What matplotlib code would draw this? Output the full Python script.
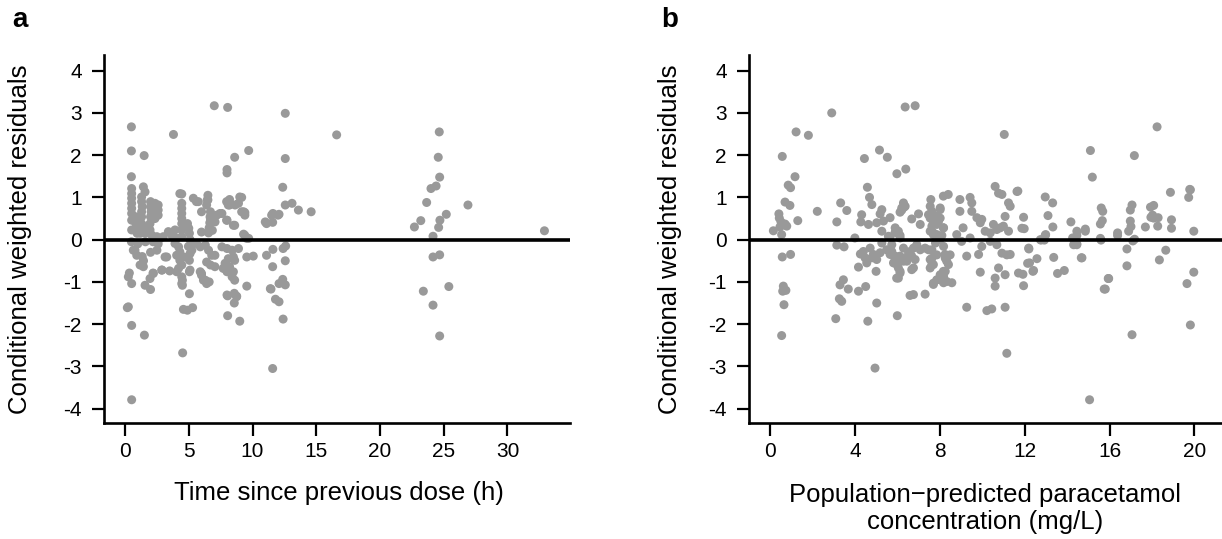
#!/usr/bin/env python3
"""CWRES vs time since dose and vs population-predicted concentration."""

import matplotlib
matplotlib.use("Agg")
import matplotlib.pyplot as plt
import numpy as np

plt.rcParams["font.family"] = ["Liberation Sans", "DejaVu Sans"]
plt.rcParams["axes.unicode_minus"] = False

# panel a: (time since previous dose [h], CWRES)
points_a = [
    (0.5, 2.67), (0.5, 2.10), (1.5, 1.99), (0.5, 1.49), (3.8, 2.49), (7.0, 3.17), (8.05, 3.13),
    (9.7, 2.11), (8.6, 1.95), (8.0, 1.66), (8.0, 1.58), (12.57, 2.99), (12.57, 1.92), (12.37, 1.24),
    (16.6, 2.48), (12.57, 0.82), (13.1, 0.86), (13.6, 0.70), (14.6, 0.66), (11.58, 0.60), (12.08, 0.60),
    (11.58, 0.41), (11.1, 0.38),
    (24.65, 2.55), (24.57, 1.95), (24.68, 1.48), (24.0, 1.21), (24.4, 1.27), (23.66, 0.88), (26.9, 0.82),
    (25.2, 0.60), (23.2, 0.45), (22.7, 0.30), (24.7, 0.46), (24.6, 0.29), (24.16, 0.08), (32.9, 0.21),
    (24.16, -0.41), (24.68, -0.36), (23.4, -1.22), (25.4, -1.11), (24.16, -1.55), (24.68, -2.28),
    (11.6, -0.23), (12.4, -0.21), (12.6, -0.15), (12.57, -0.50), (11.58, -0.64), (12.37, -0.94),
    (12.08, -1.04), (12.57, -1.07), (11.45, -1.17), (11.8, -1.41), (12.08, -1.47), (12.4, -1.88),
    (11.58, -3.05),
    (0.18, -1.61), (0.52, -2.03), (1.52, -2.26), (4.52, -2.68), (0.52, -3.79),
    (4.58, -1.65), (4.89, -1.67), (5.3, -1.61), (5.05, -1.28), (8.05, -1.80), (9.0, -1.93),
    (8.05, -1.33), (8.57, -1.27), (8.76, -1.34), (8.57, -1.50), (9.55, -1.10), (11.4, -1.16),
    (1.57, -1.08), (2.0, -1.18), (0.34, -0.79), (0.26, -0.88), (0.52, -1.04),
    (2.2, -0.79), (2.9, -0.72), (3.5, -0.74), (4.05, -0.76), (4.5, -0.96), (4.5, -1.08),
    (6.0, -0.80), (6.15, -0.96), (6.6, -1.0), (6.4, -1.04), (3.27, -0.41), (5.05, -0.76),
    (7.97, -0.72), (8.5, -0.76), (9.55, -0.41), (10.06, -0.39), (11.1, -0.37),
    (6.5, 1.05), (6.5, 0.94), (6.4, 0.82), (5.6, 0.90), (8.2, 0.95), (8.2, 0.82), (8.9, 0.86),
    (9.15, 1.0), (6.0, 0.66), (6.7, 0.66), (7.6, 0.62), (8.0, 0.46), (8.6, 0.34), (9.3, 0.66),
    (9.4, 0.64), (11.0, 0.42), (11.5, 0.58),
    (6.7, 0.50), (6.65, 0.40), (6.6, 0.28), (6.55, 0.16), (6.8, 0.45), (6.85, 0.22), (6.0, 0.18),
    (9.4, 0.10), (9.7, 0.03),
    (5.6, -0.09), (5.9, -0.17), (6.3, -0.13), (6.55, -0.25), (6.8, -0.37), (7.05, -0.37),
    (6.4, -0.53), (6.7, -0.60), (7.05, -0.64), (7.6, -0.17), (8.0, -0.21), (8.4, -0.25), (8.9, -0.21),
    (8.1, -0.45), (8.5, -0.41), (7.85, -0.56), (8.2, -0.64), (8.6, -0.49),
    (5.9, -0.76), (6.0, -0.84), (6.3, -0.96), (7.7, -0.68), (8.0, -0.76), (8.4, -0.88), (8.6, -0.96),
    (8.0, -1.31), (8.75, -1.35),
    (5.36, 0.98), (5.75, 0.90), (6.45, 0.94), (6.67, 0.54), (7.2, 0.58), (7.45, 0.62), (7.97, 0.90),
    (8.1, 0.82), (8.63, 0.82), (9.0, 1.01), (9.15, 0.66), (9.4, 0.58), (7.97, 0.46), (8.5, 0.34),
    (7.06, 0.42), (9.3, 0.13), (9.55, 0.03), (11.6, 0.62), (12.0, 0.58), (4.45, 1.08), (4.3, 1.09),
    (0.52, 1.21), (0.52, 1.09), (0.52, 0.98), (0.52, 0.86), (0.52, 0.74), (0.52, 0.62), (0.52, 0.46),
    (0.52, 0.23), (0.86, 0.54), (0.86, 0.38), (0.95, 0.27), (0.95, 0.15), (1.2, 0.15), (1.4, 0.2),
    (1.44, 1.25), (1.57, 1.13), (1.3, 1.01), (1.3, 0.90), (1.35, 0.78), (1.3, 0.66), (1.3, 0.54),
    (1.3, 0.38), (1.3, 0.27),
    (1.7, 0.30), (1.96, 0.23), (1.57, 0.15), (2.09, 0.11), (2.5, 0.07), (2.75, 0.03), (3.0, 0.07),
    (2.35, 0.86), (2.35, 0.74), (2.35, 0.62), (2.35, 0.50), (2.6, 0.82), (2.6, 0.70), (2.6, 0.58),
    (2.0, 0.90), (2.0, 0.78), (2.05, 0.66), (2.0, 0.54), (1.96, 0.38),
    (4.45, 0.86), (4.45, 0.74), (4.45, 0.62), (4.45, 0.50), (4.45, 0.38), (4.45, 0.23), (4.45, 0.07),
    (3.4, 0.19), (3.66, 0.11), (3.92, 0.23), (4.05, 0.03),
    (4.9, 0.38), (5.0, 0.27), (5.05, 0.15), (5.1, 0.0), (4.97, -0.16), (5.1, -0.33), (5.05, -0.49),
    (0.78, -0.25), (1.35, -0.40), (1.45, -0.50), (0.65, -0.25), (0.92, -0.37), (1.18, -0.60),
    (1.44, -0.64), (0.26, -1.59),
    (2.88, -0.72), (2.22, -0.80), (1.96, -0.92), (4.45, -0.88), (4.45, -1.04),
    (3.92, -0.09), (4.2, -0.17), (4.3, -0.29), (4.05, -0.37), (4.6, -0.41), (4.3, -0.49),
    (4.45, -0.60), (4.2, -0.68), (5.1, -0.72), (5.24, -0.25), (5.36, -0.09), (3.14, -0.41),
    (1.0, -0.10), (1.6, -0.05), (2.2, -0.05), (2.6, -0.10), (0.5, -0.05), (2.5, -0.25), (2.0, -0.30),
]

# panel b: (population-predicted concentration [mg/L], CWRES)
points_b = [
    (2.91, 3.0), (6.37, 3.14), (6.84, 3.17), (1.23, 2.55), (1.81, 2.47), (0.58, 1.97), (1.18, 1.49),
    (0.86, 1.29), (0.97, 1.23), (0.71, 0.89), (0.94, 0.81), (1.31, 0.45), (0.42, 0.61), (0.52, 0.42),
    (0.71, 0.37), (0.44, 0.51), (0.16, 0.21), (0.55, 0.12), (0.79, 0.32), (0.47, 0.30),
    (2.23, 0.67), (3.33, 0.87), (3.62, 0.69), (3.15, 0.42), (4.0, 0.04),
    (4.45, 1.92), (5.16, 2.12), (5.53, 1.95), (5.98, 1.56), (6.4, 1.67), (4.59, 1.24), (4.69, 1.0),
    (4.8, 0.83), (4.32, 0.59), (4.28, 0.42), (4.64, 0.36), (5.03, 0.40), (5.27, 0.71), (5.19, 0.61),
    (5.35, 0.44), (5.66, 0.52), (5.27, 0.20), (6.21, 0.70), (6.32, 0.77), (6.13, 0.65), (6.68, 0.49),
    (7.0, 0.61), (7.08, 0.36), (5.9, 0.18), (6.13, 0.10), (5.66, 0.06),
    (7.58, 0.95), (7.55, 0.79), (7.63, 0.67), (7.55, 0.51), (7.7, 0.40), (7.86, 0.36), (8.02, 0.75),
    (8.17, 1.03), (8.02, 0.51), (7.6, 0.20), (7.7, 0.12), (8.17, 0.28),
    (0.58, -0.41), (0.97, -0.35), (0.63, -1.1), (0.75, -1.2), (0.6, -1.22), (0.66, -1.54),
    (0.55, -2.27), (3.15, -0.13), (3.49, -0.17), (3.46, -0.95), (3.3, -1.07), (3.69, -1.17),
    (3.27, -1.40), (3.38, -1.46), (3.1, -1.87), (4.17, -1.22), (4.51, -1.11), (4.61, -1.93),
    (5.03, -1.50), (4.95, -3.04), (4.17, -0.65), (5.0, -0.75), (4.26, -0.34), (4.48, -0.43),
    (4.56, -0.55), (4.40, -0.28), (4.72, -0.2), (4.87, -0.35), (5.19, -0.31), (5.5, -0.24),
    (5.03, -0.47), (5.27, -0.08), (5.58, 0.08), (5.74, -0.12), (5.98, 0.16), (6.13, 0.04),
    (5.74, -0.35), (5.9, -0.47), (5.98, -0.59), (6.13, -0.39), (6.29, -0.51), (6.45, -0.43),
    (6.6, -0.28), (6.13, -0.75), (6.05, -0.91), (6.76, -0.67), (6.92, -0.16), (7.08, -0.24),
    (6.84, -0.47), (6.0, -1.8), (6.6, -1.32), (6.76, -1.30), (7.31, -1.29), (7.55, -0.47),
    (7.7, -0.59), (7.63, -0.24), (8.17, -0.75), (8.02, -0.95), (7.7, -1.03), (8.33, -0.99),
    (8.33, -0.51), (8.25, -0.35), (7.7, 0.16), (8.0, 0.0), (7.8, -0.08), (4.8, -0.43), (5.66, -0.35),
    (6.29, 0.87), (6.37, 0.79), (6.21, 0.75), (5.9, 0.28), (6.05, 0.2),
    (7.47, 0.59), (7.86, 0.55), (8.02, 0.71), (7.94, 0.43), (7.63, 0.32), (7.55, 0.2), (7.86, 0.12),
    (8.18, 0.28), (8.1, 0.10),
    (8.4, 1.07), (8.95, 0.95), (8.95, 0.67), (9.1, 0.28), (8.8, 0.12), (9.03, -0.04),
    (9.43, 1.0), (9.51, 0.87), (9.51, 0.67), (9.75, 0.52), (9.98, 0.48), (9.91, 0.40), (10.14, 0.2),
    (10.38, 0.16), (10.53, 0.36), (10.69, 0.24), (10.85, 0.28),
    (10.61, 1.26), (10.77, 1.1), (10.93, 1.07), (11.24, 0.87), (11.32, 0.79), (11.08, 0.55),
    (11.0, 0.32), (11.24, 0.2), (11.64, 1.14), (9.43, 0.04),
    (5.74, -0.28), (5.9, -0.39), (5.97, -0.51), (6.05, -0.67), (6.13, -0.79), (5.97, -0.91),
    (5.82, -0.55), (6.29, -0.2), (6.53, -0.32), (6.68, -0.39), (6.76, -0.2), (6.68, -0.71),
    (6.92, -0.12), (6.45, -0.51),
    (7.31, -0.2), (7.47, -0.24), (7.63, -0.44), (7.63, -0.59), (7.55, -0.67), (7.86, -0.36),
    (8.18, -0.16), (8.26, -0.44), (8.41, -0.59), (8.49, -0.36), (8.02, -0.83), (7.86, -0.95),
    (8.18, -0.87), (8.26, -0.75), (8.57, -1.02), (7.7, -1.06), (8.18, -1.02),
    (9.27, -0.39), (9.91, -0.77), (9.83, -0.35), (9.98, -0.16), (10.38, -0.04), (10.69, -0.12),
    (10.93, -0.32), (11.32, -0.35), (10.77, -0.67), (11.08, -0.83), (10.61, -0.91), (10.61, -1.1),
    (11.71, -0.79), (11.16, -0.36),
    (9.27, -1.6), (10.22, -1.68), (10.45, -1.64), (11.08, -1.6),
    (11.04, 2.49), (15.1, 2.11), (15.19, 1.48), (18.24, 2.67), (17.17, 1.99), (18.87, 1.12),
    (19.78, 1.19), (19.73, 1.0), (19.97, 0.2), (19.97, -0.77), (19.65, -1.04), (19.81, -2.02),
    (17.06, -2.25), (15.06, -3.79), (11.16, -2.69),
    (15.8, -1.17), (15.96, -0.92), (16.82, -0.62), (16.82, -0.22), (18.35, -0.48), (18.65, -0.25),
    (14.7, -0.43), (14.46, -0.1),
    (15.57, 0.37), (15.66, 0.45), (16.9, 0.2), (17.01, 0.31), (16.98, 0.44), (16.38, 0.1),
    (17.69, 0.3), (17.95, 0.53), (18.03, 0.58), (18.08, 0.51), (18.27, 0.32), (18.92, 0.27),
    (17.1, -0.03), (15.6, -0.01),
    (14.86, 0.2), (14.46, 0.2), (14.18, 0.42), (14.46, 0.1), (13.37, -0.42), (13.55, -0.8),
    (13.87, -0.73), (12.58, -0.45), (12.39, -0.75),
    (12.97, 1.01), (13.32, 0.87), (13.1, 0.57), (13.33, 0.30), (12.99, 0.12), (12.77, -0.01),
    (12.93, -0.01),
    (11.95, 0.53), (11.98, 0.26), (11.87, 0.27), (12.2, -0.22), (11.92, -0.82), (11.95, -1.09),
    (12.14, -0.56), (12.23, -0.55),
    (11.68, 1.15), (14.86, 0.25), (12.19, -0.2), (12.42, -0.73), (14.67, -0.43), (14.46, -0.12),
    (15.61, 0.75), (15.68, 0.67), (15.57, 0.03), (16.38, 0.16), (16.98, 0.7), (17.06, 0.82),
    (17.18, 0.01), (17.93, 0.77), (18.08, 0.81), (18.29, 0.52), (18.92, 0.47), (19.81, 1.18),
    (15.94, -0.92), (15.75, -1.17), (12.97, 0.1), (12.74, 0.0), (14.26, 0.04), (14.31, -0.12),
]

yticks = [-4, -3, -2, -1, 0, 1, 2, 3, 4]
xticks_a = [0, 5, 10, 15, 20, 25, 30]
xticks_b = [0, 4, 8, 12, 16, 20]

ylabel = "Conditional weighted residuals"
xlabel_a = "Time since previous dose (h)"
xlabel_b = "Population\u2212predicted paracetamol\nconcentration (mg/L)"


def style_axis(ax, xlim, xticks):
    ax.axhline(0, color="black", lw=2.6, zorder=3)
    ax.set_xlim(*xlim)
    ax.set_ylim(-4.34, 4.37)
    ax.set_xticks(xticks)
    ax.set_yticks(yticks)
    for side in ("top", "right"):
        ax.spines[side].set_visible(False)
    for side in ("left", "bottom"):
        ax.spines[side].set_linewidth(1.9)
    ax.tick_params(direction="out", length=9, width=1.6, labelsize=15)
    ax.tick_params(axis="x", pad=5)
    ax.tick_params(axis="y", pad=7)


fig = plt.figure(figsize=(12.22, 5.39), dpi=100)
ax_a = fig.add_axes([0.0851, 0.2152, 0.3813, 0.6827])
ax_b = fig.add_axes([0.6129, 0.2152, 0.3871, 0.6827])

pa = np.array(points_a)
pb = np.array(points_b)
ax_a.scatter(pa[:, 0], pa[:, 1], s=42, color="#999999", edgecolors="none", zorder=2)
ax_b.scatter(pb[:, 0], pb[:, 1], s=42, color="#999999", edgecolors="none", zorder=2)

style_axis(ax_a, (-1.65, 34.9), xticks_a)
style_axis(ax_b, (-0.99, 21.3), xticks_b)

# axis titles placed like the original figure
fig.text(0.0164, 0.557, ylabel, rotation=90, fontsize=18.5, ha="center", va="center")
fig.text(0.548, 0.557, ylabel, rotation=90, fontsize=18.5, ha="center", va="center")
fig.text(0.277, 0.0853, xlabel_a, fontsize=18.5, ha="center", va="center")
fig.text(0.806, 0.0566, xlabel_b, fontsize=18.5, ha="center", va="center", linespacing=1.2)

fig.text(0.010, 0.962, "a", fontsize=20, fontweight="bold", va="center")
fig.text(0.541, 0.962, "b", fontsize=20, fontweight="bold", va="center")

fig.savefig("out.png", dpi=100)
